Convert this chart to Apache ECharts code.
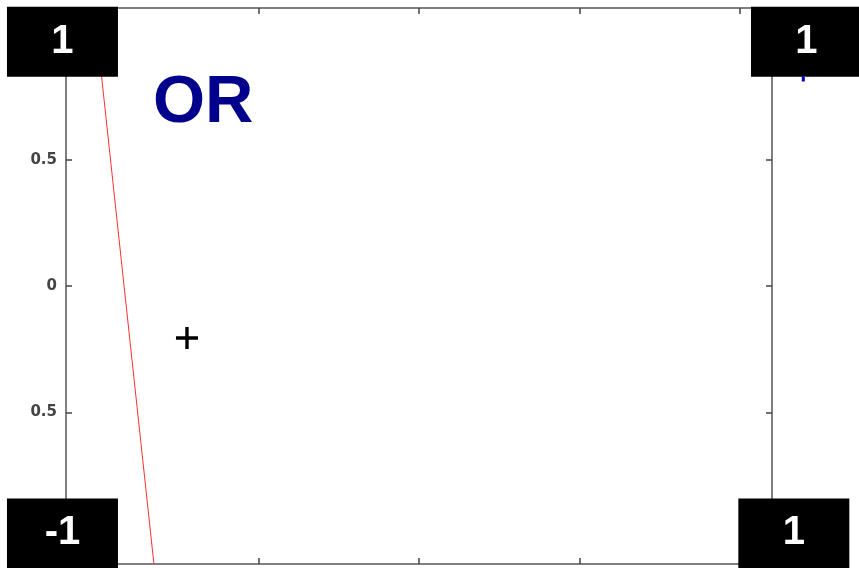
<!DOCTYPE html>
<html>
<head>
<meta charset="utf-8">
<script src="https://cdn.jsdelivr.net/npm/echarts@6/dist/echarts.min.js"></script>
<style>html,body{margin:0;padding:0;background:#fff;}#c{width:859px;height:568px;}</style>
</head>
<body>
<div id="c"></div>
<script>
// Axis ranges and ticks
const xRange = [-1.1, 1.1];
const yRange = [-1.1, 1.1];
const xTickValues = [-1, -0.5, 0, 0.5, 1];
const yTickValues = [-1, -0.5, 0, 0.5, 1];
const yLabelValues = [0.5, 0, -0.5];
const yLabelTexts = ['0.5', '0', '0.5'];

// Decision boundary line (red)
const boundaryX = [-1.012, -0.826];
const boundaryY = [1.1, -1.1];

// Test point marker (+)
const plusPoint = [-0.723, -0.206];

// Corner output labels (OR gate)
const cornerX = [-1.111, 1.2075, -1.111, 1.168];
const cornerY = [0.966, 0.966, -0.979, -0.979];
const cornerText = ['1', '1', '-1', '1'];

// Small blue fragment below top-right box
const bluePoint = [1.1975, 0.819];

const chart = echarts.init(document.getElementById('c'), null, {renderer: 'canvas'});
const frameLine = {show: true, onZero: false, lineStyle: {color: '#555', width: 1.5}};
const tickStyle = {show: true, inside: true, length: 6, lineStyle: {color: '#444', width: 1.5}};

function xAx(pos) {
  return {
    type: 'value', position: pos, min: xRange[0], max: xRange[1],
    axisLine: frameLine,
    axisTick: Object.assign({}, tickStyle, {customValues: xTickValues}),
    axisLabel: {show: false},
    splitLine: {show: false}
  };
}
function yAx(pos, labels) {
  return {
    type: 'value', position: pos, min: yRange[0], max: yRange[1],
    axisLine: frameLine,
    axisTick: Object.assign({}, tickStyle, {customValues: yTickValues}),
    axisLabel: labels ? {
      show: true, customValues: yLabelValues, margin: 9,
      color: '#444', fontFamily: 'DejaVu Sans', fontWeight: 'bold', fontSize: 15,
      formatter: function (v) {
        const i = yLabelValues.findIndex(function (t) { return Math.abs(t - v) < 1e-9; });
        return i >= 0 ? yLabelTexts[i] : '';
      }
    } : {show: false},
    splitLine: {show: false}
  };
}

chart.setOption({
  animation: false,
  backgroundColor: '#fff',
  title: {
    text: 'OR', left: 153, top: 70, padding: 0,
    textStyle: {color: '#00008C', fontFamily: 'Liberation Sans', fontWeight: 'bold', fontSize: 67}
  },
  grid: {left: 66, right: 87, top: 8, bottom: 4},
  xAxis: [xAx('bottom'), xAx('top')],
  yAxis: [yAx('left', true), yAx('right', false)],
  series: [
    {
      type: 'line', xAxisIndex: 0, yAxisIndex: 0,
      data: boundaryX.map(function (x, i) { return [x, boundaryY[i]]; }),
      symbol: 'none', lineStyle: {color: '#ff3030', width: 1}, z: 2
    },
    {
      type: 'scatter', xAxisIndex: 0, yAxisIndex: 0, clip: false,
      data: [bluePoint],
      symbol: 'rect', symbolSize: [3, 5],
      itemStyle: {color: '#0000cc', opacity: 1}, z: 2
    },
    {
      type: 'scatter', xAxisIndex: 0, yAxisIndex: 0,
      data: [plusPoint],
      symbol: 'path://M0,9.3 H22 V12.7 H0 Z M9.3,0 H12.7 V22 H9.3 Z',
      symbolSize: 22, itemStyle: {color: '#000', opacity: 1}, z: 3
    },
    {
      type: 'scatter', xAxisIndex: 0, yAxisIndex: 0, clip: false,
      data: cornerX.map(function (x, i) { return {value: [x, cornerY[i]], name: cornerText[i]}; }),
      symbol: 'rect', symbolSize: [111, 70],
      itemStyle: {color: '#000', opacity: 1},
      label: {
        show: true, position: 'inside', formatter: '{b}',
        color: '#fff', fontFamily: 'Liberation Sans', fontWeight: 'bold', fontSize: 40
      },
      emphasis: {disabled: true},
      z: 5
    }
  ]
});
</script>
</body>
</html>
